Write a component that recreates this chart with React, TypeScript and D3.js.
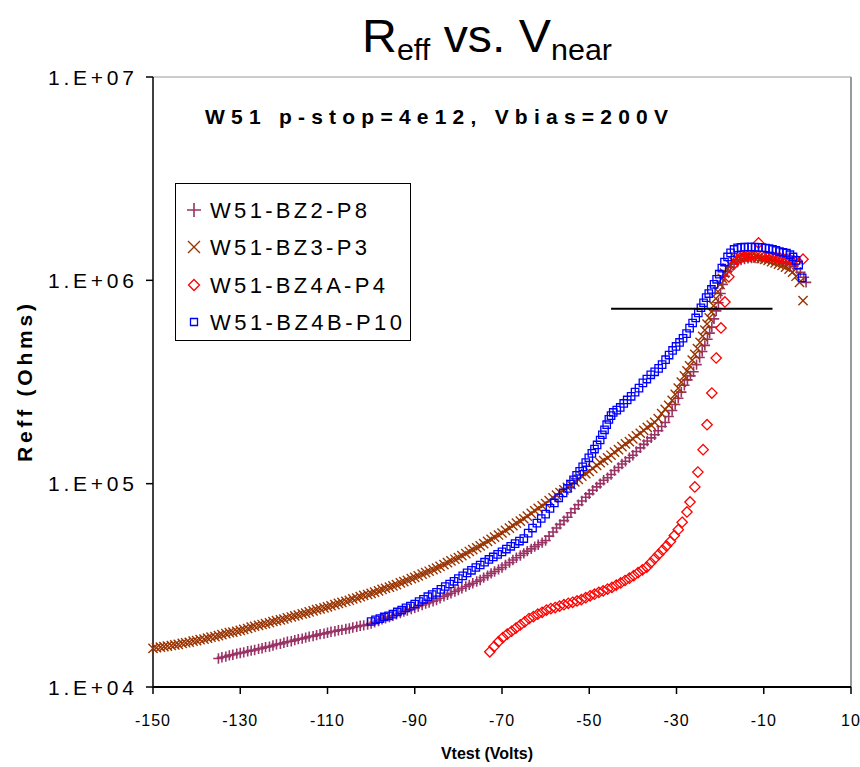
import React from 'react';
import * as d3 from 'd3';

// ---- data (Vtest in Volts, Reff in kOhm) ----
const bz2V = [
-135,-134.2,-133.3,-132.5,-131.7,-130.8,
-130,-129.2,-128.3,-127.5,-126.7,-125.8,
-125,-124.2,-123.3,-122.5,-121.7,-120.8,
-120,-119.2,-118.3,-117.5,-116.7,-115.8,
-115,-114.2,-113.3,-112.5,-111.7,-110.8,
-110,-109.2,-108.3,-107.5,-106.7,-105.8,
-105,-104.2,-103.3,-102.5,-101.7,-100.8,
-100,-99.2,-98.3,-97.5,-96.7,-95.8,
-95,-94.2,-93.3,-92.5,-91.7,-90.8,
-90,-89.2,-88.3,-87.5,-86.7,-85.8,
-85,-84.2,-83.3,-82.5,-81.7,-80.8,
-80,-79.2,-78.3,-77.5,-76.7,-75.8,
-75,-74.2,-73.3,-72.5,-71.7,-70.8,
-70,-69.2,-68.3,-67.5,-66.7,-65.8,
-65,-64.2,-63.3,-62.5,-61.7,-60.8,
-60,-59.2,-58.3,-57.5,-56.7,-55.8,
-55,-54.2,-53.3,-52.5,-51.7,-50.8,
-50,-49.2,-48.3,-47.5,-46.7,-45.8,
-45,-44.2,-43.3,-42.5,-41.7,-40.8,
-40,-39.2,-38.3,-37.5,-36.7,-35.8,
-35,-34.2,-33.4,-32.6,-31.8,-31.0,-30.3,-29.6,-28.9,-28.2,-27.5,-26.8,-26.1,-25.4,-24.7,-24.1,
-23.5,-22.9,-22.4,-21.9,-21.4,-20.9,-20.4,-19.9,-19.4,-18.9,-18.3,-17.6,-16.8,-16.0,-15.2,-14.4,
-13.6,-12.8,-12.0,-11.2,-10.4,-9.6,-8.8,-8.0,-7.2,-6.4,-5.6,-4.8,-4.0,-3.2,-2.4,-1.6,-0.8,-0.3];
const bz2R = [
13.8,14.0,14.1,14.3,14.4,14.6,
14.7,14.8,15.0,15.1,15.2,15.4,
15.5,15.7,15.8,16.0,16.2,16.3,
16.5,16.7,16.8,17.0,17.2,17.3,
17.5,17.7,17.8,18.0,18.2,18.3,
18.5,18.7,18.8,19.0,19.1,19.3,
19.4,19.6,19.8,20.0,20.1,20.3,
20.5,20.8,21.1,21.5,21.8,22.1,
22.4,22.8,23.1,23.5,23.8,24.2,
24.5,24.9,25.3,25.7,26.0,26.4,
26.8,27.3,27.9,28.4,28.9,29.5,
30.0,30.6,31.2,31.8,32.4,33.0,
33.6,34.5,35.3,36.2,37.0,37.9,
38.7,39.8,40.9,42.1,43.2,44.3,
45.4,46.6,47.8,49.0,50.1,51.3,
52.5,55.2,57.8,60.5,63.1,65.8,
68.4,71.9,75.3,78.8,82.2,85.7,
89.1,92.8,96.4,100,104,107,
111,116,120,125,129,134,
138,144,150,156,162,168,
174,182,191,200,214,229,245,263,282,305,324,339,355,385,417,447,
479,513,550,589,646,708,776,861,955,1047,1109,1161,1202,1230,1259,1274,
1282,1288,1288,1288,1285,1279,1271,1262,1253,1242,1230,1216,1202,1175,1143,1096,1035,977];

const bz3V = [
-150,-149.2,-148.3,-147.5,-146.7,-145.8,
-145,-144.2,-143.3,-142.5,-141.7,-140.8,
-140,-139.2,-138.3,-137.5,-136.7,-135.8,
-135,-134.2,-133.3,-132.5,-131.7,-130.8,
-130,-129.2,-128.3,-127.5,-126.7,-125.8,
-125,-124.2,-123.3,-122.5,-121.7,-120.8,
-120,-119.2,-118.3,-117.5,-116.7,-115.8,
-115,-114.2,-113.3,-112.5,-111.7,-110.8,
-110,-109.2,-108.3,-107.5,-106.7,-105.8,
-105,-104.2,-103.3,-102.5,-101.7,-100.8,
-100,-99.2,-98.3,-97.5,-96.7,-95.8,
-95,-94.2,-93.3,-92.5,-91.7,-90.8,
-90,-89.2,-88.3,-87.5,-86.7,-85.8,
-85,-84.2,-83.3,-82.5,-81.7,-80.8,
-80,-79.2,-78.3,-77.5,-76.7,-75.8,
-75,-74.2,-73.3,-72.5,-71.7,-70.8,
-70,-69.2,-68.3,-67.5,-66.7,-65.8,
-65,-64.2,-63.3,-62.5,-61.7,-60.8,
-60,-59.2,-58.3,-57.5,-56.7,-55.8,
-55,-54.2,-53.3,-52.5,-51.7,-50.8,
-50,-49.2,-48.3,-47.5,-46.7,-45.8,
-45,-44.2,-43.3,-42.5,-41.7,-40.8,
-40,-39.2,-38.3,-37.5,-36.7,-35.8,
-35,-34.2,-33.4,-32.6,-31.8,-31.0,-30.3,-29.6,-28.9,-28.2,-27.6,-27.0,-26.4,-25.8,-25.2,-24.6,
-24.0,-23.5,-23.0,-22.5,-22.0,-21.5,-21.0,-20.5,-20.0,-19.5,-19.0,-18.4,-17.8,-17.0,-16.2,-15.4,
-14.6,-13.8,-13.0,-12.2,-11.4,-10.6,-9.8,-9.0,-8.2,-7.4,-6.6,-5.8,-5.0,-4.2,-3.4,-2.6,-1.8,-1.0];
const bz3R = [
15.5,15.6,15.7,15.8,15.9,16.0,
16.1,16.2,16.4,16.5,16.6,16.8,
16.9,17.1,17.2,17.4,17.6,17.7,
17.9,18.1,18.3,18.5,18.6,18.8,
19.0,19.2,19.4,19.7,19.9,20.1,
20.3,20.5,20.7,21.0,21.2,21.4,
21.6,21.9,22.1,22.4,22.6,22.9,
23.1,23.4,23.7,24.0,24.2,24.5,
24.8,25.1,25.4,25.8,26.1,26.4,
26.7,27.1,27.4,27.8,28.2,28.5,
28.9,29.3,29.7,30.2,30.6,31.0,
31.4,31.9,32.5,33.0,33.5,34.1,
34.6,35.2,35.9,36.5,37.1,37.8,
38.4,39.2,40.0,40.9,41.7,42.5,
43.3,44.3,45.3,46.4,47.4,48.4,
49.4,50.7,52.0,53.3,54.6,55.9,
57.2,58.9,60.5,62.2,63.9,65.5,
67.2,69.3,71.4,73.6,75.7,77.8,
79.9,82.6,85.2,87.9,90.5,93.2,
95.8,99.0,102,105,109,112,
115,119,123,127,130,134,
138,143,147,152,157,161,
166,172,177,183,189,194,
200,209,221,232,243,257,275,295,316,339,359,380,405,432,462,495,
531,569,610,653,700,750,813,881,955,1023,1084,1148,1202,1245,1274,1288,
1297,1303,1303,1297,1288,1279,1268,1253,1236,1219,1202,1183,1161,1135,1096,1047,977,794];

const bz4aV = [
-72.8,-71.8,-70.8,-69.8,-68.8,-67.8,-66.8,-65.8,-64.8,-63.8,-62.8,-61.8,-60.8,-59.8,-58.8,-57.8,
-56.8,-55.8,-54.8,-53.8,-52.8,-51.8,-50.8,-49.8,-48.8,-47.8,-46.8,-45.8,-44.8,-43.8,-42.8,-41.8,
-40.8,-39.8,-38.8,-37.8,-36.8,-35.9,-35.0,-34.1,-33.2,-32.3,-31.4,-30.5,-29.6,-28.7,-27.6,-26.9,
-25.8,-25.1,-23.9,-23.0,-21.9,-20.9,-19.8,-18.9,-18.0,-17.0,-16.1,-15.3,-14.5,-13.7,-12.9,-12.1,
-11.2,-10.4,-9.6,-8.8,-8.0,-7.2,-6.4,-5.6,-4.8,-4.0,-3.2,-2.4,-1.0];
const bz4aR = [
14.9,15.8,16.7,17.5,18.2,18.8,19.5,20.2,20.9,21.7,22.2,22.8,23.3,23.9,24.3,24.6,
25.0,25.4,25.8,26.1,26.5,26.9,27.5,28.1,28.6,29.2,29.7,30.3,30.9,31.7,32.5,33.4,
34.3,35.3,36.5,37.7,38.9,40.8,42.8,44.9,47.1,49.4,52.0,55.6,59.4,64.6,72.6,81.3,
96.4,114,147,195,279,415,583,783,1040,1191,1259,1288,1303,1312,1318,1321,
1528,1321,1318,1312,1306,1300,1291,1282,1274,1265,1253,1245,1270];

const bz4bV = [
-100,-99,-98,-97,-96,-95,-94,-93,-92,-91,-90,-89,-88,-87,-86,
-85,-84,-83,-82,-81,-80,-79,-78,-77,-76,-75,-74,-73,-72,-71,
-70,-69,-68,-67,-66,-65,-64,-63,-62,-61,-60,-59,-58,-57,-56,
-55,-54.3,-53.6,-52.9,-52.2,-51.5,-50.8,-50.1,-49.4,-48.8,-48.2,-47.5,-47.0,-46.5,-46.0,-45.5,
-45.0,-44.5,-43.7,-42.9,-42.1,-41.3,-40.4,-39.5,-38.6,-37.7,-36.8,-35.9,-35.0,-34.1,-33.3,-32.5,
-31.7,-30.9,-30.1,-29.3,-28.5,-27.7,-27.0,-26.3,-25.6,-25.0,-24.4,-23.8,-23.2,-22.6,-22.0,-21.4,
-20.8,-20.2,-19.6,-19.0,-18.3,-17.6,-16.8,-16.0,-15.2,-14.4,-13.6,-12.8,-12.0,-11.2,-10.4,-9.6,
-8.8,-8.0,-7.2,-6.4,-5.6,-4.8,-4.0,-3.3,-2.6,-2.0,-1.2];
const bz4bR = [
21.0,21.4,21.7,22.1,22.4,22.8,23.4,23.9,24.5,25.0,25.6,26.3,27.0,27.8,28.5,
29.2,30.2,31.2,32.1,33.1,34.1,35.2,36.4,37.5,38.7,39.8,41.1,42.4,43.6,44.9,
46.2,47.7,49.2,50.7,52.2,53.7,57.1,60.5,64.0,67.4,70.8,75.6,80.4,85.2,90.0,
94.8,99.5,104.5,110,115,121,127,134,141,148,155,164,174,184,195,207,
216,224,230,237,248,258,269,282,295,313,327,343,355,369,385,407,
429,452,473,495,519,547,582,617,653,692,733,776,822,861,902,955,
1012,1072,1148,1230,1303,1365,1419,1445,1452,1455,1459,1459,1455,1452,1449,1442,
1432,1419,1403,1384,1371,1361,1337,1303,1253,1189,1028];

const refLineV = [-45, -8];
const refLineR = [725, 725];

const seriesNames = ['W51-BZ2-P8', 'W51-BZ3-P3', 'W51-BZ4A-P4', 'W51-BZ4B-P10'];
const xTicks = [-150, -130, -110, -90, -70, -50, -30, -10, 10];
const yTicks = [1e4, 1e5, 1e6, 1e7];
const yTickLabels = ['1.E+04', '1.E+05', '1.E+06', '1.E+07'];

const PL = 153, PR = 851, PT = 77, PB = 687;

function markerPath(shape: string, s: number) {
  if (shape === 'plus') return `M${-s},0H${s}M0,${-s}V${s}`;
  if (shape === 'x') return `M${-s},${-s}L${s},${s}M${-s},${s}L${s},${-s}`;
  if (shape === 'diamond') return `M0,${-s}L${s},0L0,${s}L${-s},0Z`;
  return `M${-s},${-s}H${s}V${s}H${-s}Z`;
}

export default function App() {
  const x = d3.scaleLinear().domain([-150, 10]).range([PL, PR]);
  const y = d3.scaleLog().domain([1e4, 1e7]).range([PB, PT]);

  const series = [
    { name: seriesNames[0], v: bz2V, r: bz2R, color: '#993366', shape: 'plus', size: 5.2, lsize: 7, sw: 1.6 },
    { name: seriesNames[1], v: bz3V, r: bz3R, color: '#993300', shape: 'x', size: 4.6, lsize: 6, sw: 1.4 },
    { name: seriesNames[2], v: bz4aV, r: bz4aR, color: '#FF0000', shape: 'diamond', size: 5.2, lsize: 5.5, sw: 1.3 },
    { name: seriesNames[3], v: bz4bV, r: bz4bR, color: '#0000FF', shape: 'square', size: 3.7, lsize: 3.5, sw: 1.3 },
  ];

  const line = d3.line<number>().x((d, i) => x(refLineV[i])).y((d) => y(d * 1000));
  const legendRows = [210, 247, 285, 322];
  const legendLens = [157, 157, 175, 192];

  return (
    <svg width={860} height={767} style={{ position: 'absolute', left: 0, top: 0, background: '#fff' }}
      fontFamily="'Liberation Sans', Arial, sans-serif">
      <rect x={0} y={0} width={860} height={767} fill="#fff" />
      {/* title */}
      <text x={362} y={52} fontSize={46} textLength={250} lengthAdjust="spacingAndGlyphs" fill="#000">
        R<tspan fontSize={29} dy={8}>eff</tspan><tspan dy={-8}> vs. V</tspan><tspan fontSize={29} dy={8}>near</tspan>
      </text>
      {/* plot frame (top/right grey) */}
      <line x1={PL} y1={PT} x2={PR} y2={PT} stroke="#9a9a9a" strokeWidth={1.2} />
      <line x1={PR} y1={PT} x2={PR} y2={PB} stroke="#9a9a9a" strokeWidth={2} />
      {/* axes */}
      <line x1={PL} y1={PT} x2={PL} y2={PB} stroke="#000" strokeWidth={1.5} />
      <line x1={PL} y1={PB} x2={PR} y2={PB} stroke="#000" strokeWidth={2} />
      {yTicks.map((t, i) => (
        <g key={'yt' + i}>
          <line x1={PL - 7} x2={PL} y1={y(t)} y2={y(t)} stroke="#000" strokeWidth={1.5} />
          <text x={134} y={y(t)} dy="0.36em" textAnchor="end" fontSize={21} textLength={86} lengthAdjust="spacing" fill="#000">{yTickLabels[i]}</text>
        </g>
      ))}
      {xTicks.map((t, i) => (
        <g key={'xt' + i}>
          <line x1={x(t)} x2={x(t)} y1={PB} y2={PB + 7} stroke="#000" strokeWidth={1.5} />
          <text x={x(t)} y={726} textAnchor="middle" fontSize={16} letterSpacing={1} fill="#000">{String(t)}</text>
        </g>
      ))}
      {/* axis titles */}
      <text x={487} y={759} textAnchor="middle" fontSize={16} fontWeight="bold" fill="#000">Vtest (Volts)</text>
      <text transform="translate(32,383) rotate(-90)" textAnchor="middle" fontSize={21} fontWeight="bold" textLength={158} lengthAdjust="spacing" fill="#000">Reff (Ohms)</text>
      {/* annotation */}
      <text x={205} y={124} fontSize={21} fontWeight="bold" textLength={463} lengthAdjust="spacing" fill="#000">W51 p-stop=4e12, Vbias=200V</text>
      {/* data */}
      {series.map((s) => (
        <g key={s.name} stroke={s.color} fill="none" strokeWidth={s.sw}>
          {s.v.map((v, i) => (
            <path key={i} transform={`translate(${x(v)},${y(s.r[i] * 1000)})`} d={markerPath(s.shape, s.size)} />
          ))}
        </g>
      ))}
      {/* reference line */}
      <path d={line(refLineR) || ''} stroke="#000" strokeWidth={2} fill="none" />
      {/* legend */}
      <rect x={175.5} y={183.5} width={235} height={157} fill="#fff" stroke="#000" strokeWidth={1} />
      {series.map((s, i) => (
        <g key={'lg' + i}>
          <path transform={`translate(194,${legendRows[i]})`} d={markerPath(s.shape, s.lsize)} stroke={s.color} fill="none" strokeWidth={s.sw} />
          <text x={210} y={legendRows[i]} dy="0.36em" fontSize={22} textLength={legendLens[i]} lengthAdjust="spacing" fill="#000">{s.name}</text>
        </g>
      ))}
    </svg>
  );
}
